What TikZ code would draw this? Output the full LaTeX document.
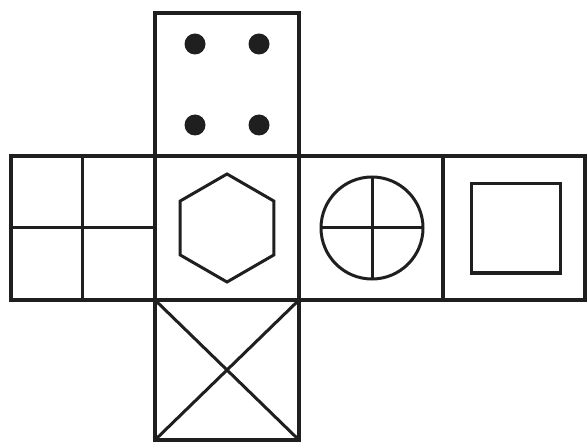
\documentclass[tikz,border=0pt]{standalone}
\begin{document}
\begin{tikzpicture}[x=1pt,y=-1pt,line join=miter,
  figline/.style={draw=black!88,line width=3pt},
  facebox/.style={draw=black!88,line width=3.2pt}]
\useasboundingbox (0,0) rectangle (588,443);
% faces
\draw[facebox] (155,13) rectangle (299,156);
\draw[facebox] (11,156) rectangle (585,300);
\draw[facebox] (155,156) -- (155,300) (299,156) -- (299,300) (443,156) -- (443,300);
\draw[facebox] (155,300) rectangle (299,440);
% dots
\foreach \x/\y in {195/44,259/44,195/125,259/125}
  \fill[black!88] (\x,\y) circle (10.5);
% left cross
\draw[figline] (82,156) -- (82,300) (11,228) -- (155,228);
% hexagon
\draw[figline] (227,228) +(90:54) -- +(30:54) -- +(-30:54) -- +(-90:54) -- +(-150:54) -- +(150:54) -- cycle;
% circle with cross
\draw[figline] (372,228) circle (51);
\draw[figline] (372,177) -- (372,279) (321,228) -- (423,228);
% inner square
\draw[figline] (471,184) rectangle (560,273);
% X in bottom face
\draw[figline] (155,300) -- (299,440) (299,300) -- (155,440);
\end{tikzpicture}
\end{document}
